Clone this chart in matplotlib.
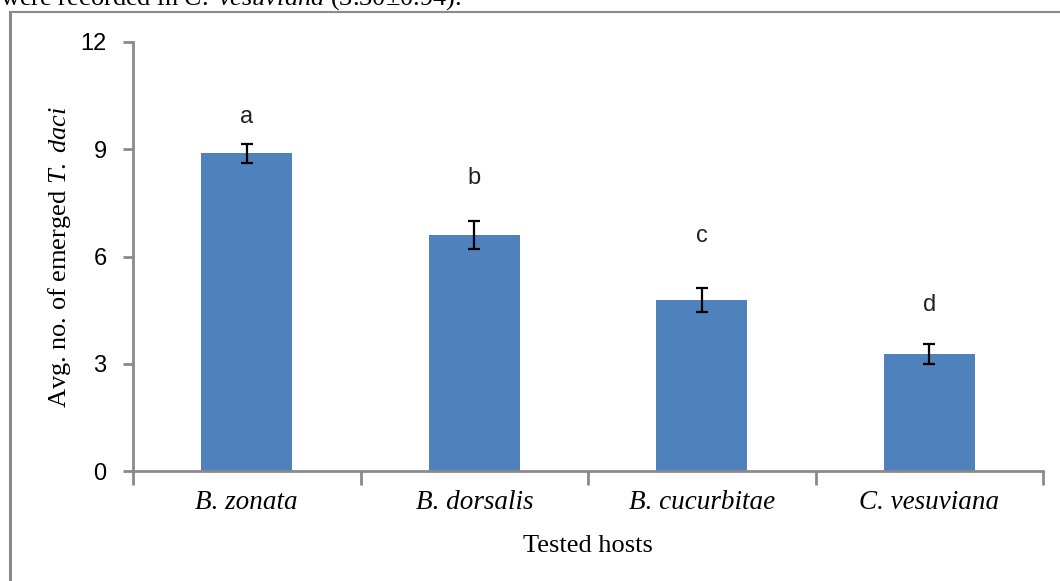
import matplotlib
matplotlib.use("Agg")
import matplotlib.pyplot as plt

plt.rcParams["mathtext.fontset"] = "custom"
plt.rcParams["mathtext.it"] = "Liberation Serif:italic"
plt.rcParams["mathtext.rm"] = "Liberation Serif"
plt.rcParams["mathtext.default"] = "rm"

hosts = ["B. zonata", "B. dorsalis", "B. cucurbitae", "C. vesuviana"]
means = [8.89, 6.60, 4.78, 3.27]
errors = [0.27, 0.38, 0.33, 0.29]
letters = ["a", "b", "c", "d"]
letter_y = [9.91, 8.20, 6.57, 4.64]
yticks = [0, 3, 6, 9, 12]

W, H = 1060, 581
fig = plt.figure(figsize=(W / 100, H / 100), dpi=100)
fig.patch.set_facecolor("white")

# outer frame (partial page box)
fig.add_artist(plt.Line2D([9.5 / W, 9.5 / W], [0, 1 - 12 / H], transform=fig.transFigure,
                          color="#8a8a8a", lw=2.2))
fig.add_artist(plt.Line2D([9.5 / W, 1.0], [1 - 12 / H, 1 - 12 / H], transform=fig.transFigure,
                          color="#8a8a8a", lw=1.5))
fig.text(0.0, 1 - 5 / H, r"were recorded in $\mathit{C.\ vesuviana}$ (3.30$\pm$0.94).",
         family="Liberation Serif", fontsize=19, va="baseline", ha="left")

ax = fig.add_axes([133 / W, 1 - 471 / H, (1043 - 133) / W, (471 - 42) / H])
x = list(range(len(hosts)))
ax.bar(x, means, width=0.4, color="#4F81BD", zorder=2)
ax.errorbar(x, means, yerr=errors, fmt="none", ecolor="black", elinewidth=1.6,
            capsize=4.6, capthick=1.6, zorder=3)
for xi, t, yy in zip(x, letters, letter_y):
    ax.text(xi, yy, t, ha="center", va="center", family="Liberation Sans", fontsize=17,
            color="#222222")

ax.set_xlim(-0.5, len(hosts) - 0.5)
ax.set_ylim(0, 12)
ax.set_yticks(yticks)
ax.set_yticklabels([str(v) for v in yticks], family="Liberation Sans", fontsize=17)
ax.set_xticks(x)
ax.set_xticklabels(hosts, family="Liberation Serif", style="italic", fontsize=19.5)
ax.set_xticks([i - 0.5 for i in range(len(hosts) + 1)], minor=True)
ax.tick_params(axis="x", which="major", length=0, pad=14)
ax.tick_params(axis="x", which="minor", length=10, width=2, color="#8a8a8a")
ax.tick_params(axis="y", length=7, width=2, color="#8a8a8a", pad=12)
for s in ["top", "right"]:
    ax.spines[s].set_visible(False)
for s in ["left", "bottom"]:
    ax.spines[s].set_color("#8a8a8a")
    ax.spines[s].set_linewidth(2)

ax.set_ylabel(r"Avg. no. of emerged $\mathit{T.\ daci}$", family="Liberation Serif",
              fontsize=19, labelpad=5)
ax.set_xlabel("Tested hosts", family="Liberation Serif", fontsize=19, labelpad=14)

fig.savefig("out.png", dpi=100, facecolor="white")
